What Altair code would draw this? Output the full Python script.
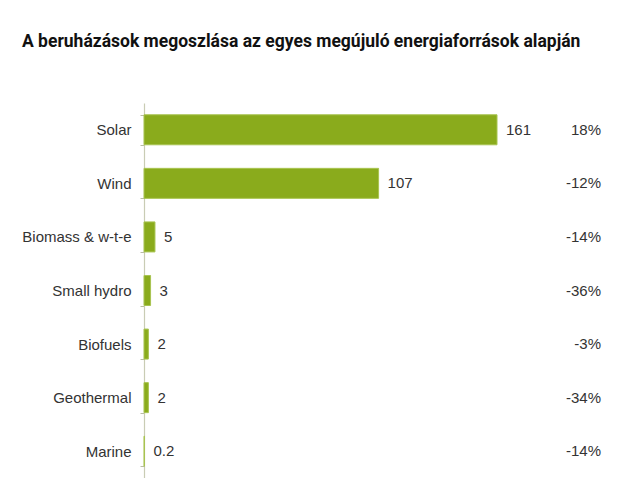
import altair as alt
import pandas as pd

categories = ["Solar", "Wind", "Biomass & w-t-e", "Small hydro", "Biofuels", "Geothermal", "Marine"]
values = [161, 107, 5, 3, 2, 2, 0.2]
value_labels = ["161", "107", "5", "3", "2", "2", "0.2"]
changes = ["18%", "-12%", "-14%", "-36%", "-3%", "-34%", "-14%"]

df = pd.DataFrame({"cat": categories, "val": values, "vlab": value_labels, "chg": changes})

W = 460
H = 375
y_enc = alt.Y("cat:N", sort=categories, title=None,
              scale=alt.Scale(paddingInner=0.44, paddingOuter=0.22),
              axis=alt.Axis(tickBand="extent", tickSize=4, tickColor="#b9bca4",
                            domainColor="#c9ccb4", domainWidth=1.2, labelPadding=9,
                            labelFont="Liberation Sans", labelFontSize=15,
                            labelColor="#333333", grid=False))
x_enc = alt.X("val:Q", scale=alt.Scale(domain=[0, 209.8]), axis=None)

bars = alt.Chart(df).mark_bar(color="#8aab1c", stroke="#a8c450", strokeWidth=1).encode(
    x=x_enc, y=y_enc)

vtext = alt.Chart(df).mark_text(align="left", dx=9, font="Liberation Sans", fontSize=15,
                                color="#333333").encode(
    x=x_enc, y=alt.Y("cat:N", sort=categories), text="vlab:N")

ctext = alt.Chart(df).mark_text(align="right", font="Liberation Sans", fontSize=15,
                                color="#333333").encode(
    x=alt.value(457), y=alt.Y("cat:N", sort=categories), text="chg:N")

chart = alt.layer(bars, vtext, ctext).properties(
    width=W, height=H,
    title=alt.TitleParams("A beruházások megoszlása az egyes megújuló energiaforrások alapján",
                          anchor="start", frame="group", dx=-122, offset=46,
                          font="Roboto", fontSize=17.5, fontWeight="bold", color="#111111"),
    autosize=alt.AutoSizeParams(type="none"),
    padding={"left": 136, "top": 95, "right": 0, "bottom": 0},
).configure_view(stroke=None)

chart.save("out.html", embed_options={"renderer": "svg", "actions": False})
